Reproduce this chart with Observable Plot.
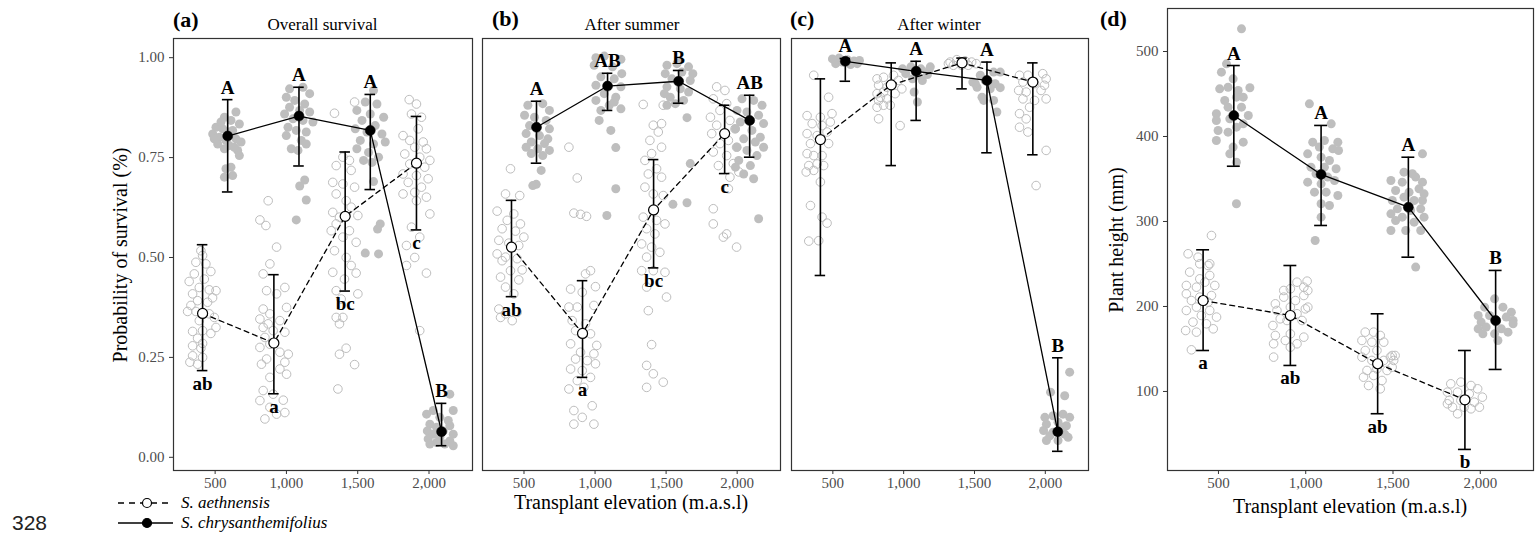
<!DOCTYPE html>
<html><head><meta charset="utf-8">
<script src="https://cdn.jsdelivr.net/npm/d3@7"></script>
<script src="https://cdn.jsdelivr.net/npm/@observablehq/plot@0.6"></script>
<style>
html,body{margin:0;padding:0;background:#fff;}
#chart{position:relative;width:1537px;height:535px;overflow:hidden;background:#fff;}
#chart svg{position:absolute;left:0;top:0;}
</style></head><body><div id="chart"></div>
<script>
// ---------- categories / labels ----------
const elevations = [500, 1000, 1500, 2000];
const elevationLabels = ["500", "1,000", "1,500", "2,000"];
const speciesNames = ["S. aethnensis", "S. chrysanthemifolius"];
const survivalTicks = [0, 0.25, 0.5, 0.75, 1];
const survivalTickLabels = ["0.00", "0.25", "0.50", "0.75", "1.00"];
const heightTicks = [100, 200, 300, 400, 500];
const panelTags = ["(a)", "(b)", "(c)", "(d)"];
const panelTitles = ["Overall survival", "After summer", "After winter"];
const xTitle = "Transplant elevation (m.a.s.l)";
const yTitleSurvival = "Probability of survival (%)";
const yTitleHeight = "Plant height (mm)";
const pageNumber = "328";

// ---------- (a) overall survival ----------
const overallAethMean = [0.360, 0.286, 0.603, 0.736];
const overallAethLow  = [0.217, 0.159, 0.416, 0.569];
const overallAethHigh = [0.532, 0.457, 0.764, 0.853];
const overallAethLetters = ["ab", "a", "bc", "c"];
const overallChrysMean = [0.804, 0.854, 0.818, 0.064];
const overallChrysLow  = [0.664, 0.729, 0.670, 0.029];
const overallChrysHigh = [0.895, 0.926, 0.908, 0.135];
const overallChrysLetters = ["A", "A", "A", "B"];
// raw points: [jitter offset (m), value]
const overallAethRaw = [
 [[-12,.517],[0,.505],[-47,.488],[23,.484],[58,.465],[-58,.459],[-94,.440],[12,.446],[-23,.425],[47,.419],[94,.417],[-70,.409],[70,.399],[-35,.392],[35,.388],[-82,.380],[-105,.365],[-47,.365],[47,.359],[82,.350],[-23,.342],[94,.325],[-70,.315],[0,.317],[58,.310],[-35,.298],[0,.285],[-70,.279],[-12,.273],[-70,.254],[0,.250],[-89,.238],[-35,.233]],
 [[19,.526],[-28,.484],[-75,.459],[77,.425],[-51,.417],[19,.409],[89,.375],[-75,.371],[-28,.359],[-98,.346],[42,.342],[-40,.334],[-75,.325],[-5,.317],[77,.313],[-63,.300],[-28,.283],[-98,.275],[42,.263],[101,.258],[-51,.246],[77,.238],[-87,.233],[42,.221],[89,.208],[-28,.200],[-75,.167],[-5,.158],[66,.143],[-98,.142],[-28,.125],[77,.112],[-63,.096],[19,.108],[-40,.642],[-98,.594],[-56,.580]],
 [[-75,.861],[66,.889],[-16,.751],[30,.743],[-63,.730],[42,.718],[-87,.688],[-16,.684],[66,.676],[-63,.659],[7,.642],[42,.626],[-87,.613],[-40,.601],[89,.605],[-63,.584],[30,.567],[-98,.567],[-16,.551],[77,.538],[-75,.517],[7,.500],[42,.480],[-87,.463],[77,.461],[-5,.446],[-63,.417],[89,.409],[-28,.396],[-63,.350],[-16,.350],[-40,.334],[7,.273],[-40,.258],[66,.232],[-51,.171]],
 [[-51,.895],[0,.884],[-35,.859],[35,.851],[-94,.805],[12,.822],[-47,.793],[47,.789],[-12,.776],[70,.772],[-82,.759],[23,.751],[94,.743],[-47,.734],[58,.726],[-94,.709],[0,.705],[82,.697],[-58,.688],[35,.676],[-12,.663],[-94,.659],[70,.651],[0,.642],[94,.609],[-35,.576],[23,.551],[-70,.530],[-12,.500],[-70,.480],[70,.461],[23,.317]]
];
const overallChrysRaw = [
 [[58,.864],[-23,.851],[23,.843],[82,.834],[-82,.826],[-35,.822],[35,.818],[-105,.809],[0,.814],[-58,.801],[58,.797],[94,.789],[-70,.784],[12,.780],[-23,.772],[70,.768],[82,.755],[23,.726],[-12,.722],[-23,.701],[35,.705],[-94,.797],[-47,.839],[47,.776],[-12,.793]],
 [[-66,.922],[28,.926],[75,.910],[-89,.901],[-30,.893],[40,.884],[-66,.876],[5,.868],[75,.864],[-101,.859],[-42,.847],[28,.843],[98,.839],[-77,.826],[-19,.818],[51,.814],[-89,.805],[16,.793],[-54,.772],[-7,.768],[51,.784],[40,.694],[5,.679],[51,.644],[-19,.594]],
 [[23,.918],[-35,.889],[47,.884],[-94,.868],[0,.859],[94,.851],[-58,.843],[35,.830],[-105,.822],[-23,.814],[82,.809],[-70,.793],[23,.784],[105,.789],[-94,.772],[-12,.763],[58,.751],[-47,.743],[12,.738],[70,.584],[51,.571],[-35,.511],[58,.509],[23,.690]],
 [[58,.158],[-58,.117],[82,.117],[-105,.108],[-12,.100],[47,.092],[-82,.083],[-35,.075],[58,.079],[-100,.066],[12,.066],[-58,.058],[82,.058],[-12,.050],[-94,.046],[58,.041],[-35,.037],[23,.033],[82,.029],[-82,.033]]
];

// ---------- (b) after summer ----------
const summerAethMean = [0.526, 0.310, 0.619, 0.810];
const summerAethLow  = [0.402, 0.200, 0.474, 0.710];
const summerAethHigh = [0.643, 0.442, 0.745, 0.881];
const summerAethLetters = ["ab", "a", "bc", "c"];
const summerChrysMean = [0.826, 0.929, 0.941, 0.843];
const summerChrysLow  = [0.736, 0.868, 0.886, 0.751];
const summerChrysHigh = [0.891, 0.961, 0.968, 0.906];
const summerChrysLetters = ["A", "AB", "B", "AB"];
const summerAethRaw = [
 [[-42,.659],[58,.655],[-101,.616],[16,.609],[-30,.593],[63,.584],[-66,.572],[28,.566],[87,.551],[-89,.543],[-19,.536],[51,.530],[-101,.509],[-42,.501],[40,.497],[-66,.492],[75,.469],[-7,.467],[-77,.451],[51,.444],[-42,.426],[16,.409],[-89,.371],[40,.363],[-42,.359],[5,.342],[-77,.350],[-7,.722]],
 [[-96,.776],[-37,.699],[-61,.611],[-14,.608],[28,.603],[56,.467],[21,.459],[91,.427],[-84,.421],[-2,.413],[-96,.376],[-37,.376],[80,.380],[-73,.342],[21,.334],[-49,.317],[56,.309],[-84,.284],[100,.280],[-14,.263],[80,.259],[-49,.246],[33,.242],[-84,.221],[91,.234],[-2,.217],[56,.200],[-96,.171],[-37,.192],[9,.175],[-61,.117],[68,.129],[-2,.100],[-61,.083],[80,.083]],
 [[-73,.883],[68,.881],[56,.835],[-2,.831],[33,.814],[-26,.793],[56,.776],[-14,.760],[-61,.743],[21,.722],[-37,.709],[56,.701],[-61,.676],[-2,.659],[68,.655],[-73,.601],[21,.593],[80,.584],[-49,.572],[9,.559],[-84,.534],[-14,.526],[44,.513],[-49,.501],[-84,.467],[-2,.467],[80,.463],[-49,.426],[91,.401],[-37,.367],[-14,.282],[-49,.230],[-2,.209],[68,.188],[-49,.175]],
 [[-56,.927],[2,.918],[-80,.897],[14,.885],[-33,.868],[-100,.851],[37,.843],[-56,.831],[73,.822],[-91,.810],[26,.793],[-33,.785],[84,.776],[-80,.764],[14,.755],[61,.735],[-44,.730],[100,.714],[37,.701],[-80,.622],[26,.672],[-80,.584],[14,.559],[-9,.551],[84,.526]]
];
const summerChrysRaw = [
 [[-61,.881],[44,.885],[91,.868],[-84,.856],[-14,.851],[68,.843],[-49,.830],[91,.822],[-73,.810],[21,.805],[80,.797],[-37,.789],[56,.785],[-73,.776],[9,.772],[91,.768],[-37,.760],[44,.755],[33,.718],[-2,.683],[-26,.680]],
 [[-82,1.0],[-23,1.004],[94,.996],[-94,.981],[35,.977],[100,.960],[-47,.952],[47,.947],[-82,.931],[94,.927],[-23,.910],[58,.901],[-82,.893],[12,.881],[94,.872],[-47,.868],[47,.889],[-59,.843],[23,.818],[58,.775],[58,.672],[-5,.605]],
 [[-82,.981],[-12,.985],[70,.977],[-94,.960],[23,.964],[-47,.947],[82,.943],[-82,.927],[12,.922],[70,.914],[-59,.901],[35,.893],[-23,.885],[-82,.881],[59,.850],[82,.735],[-40,.633],[59,.637],[0,.993],[100,.960],[-100,.910]],
 [[-54,.897],[28,.893],[87,.881],[-89,.868],[-19,.864],[63,.856],[-66,.839],[98,.835],[-100,.822],[16,.818],[75,.801],[-42,.797],[40,.789],[-89,.776],[98,.776],[-19,.768],[51,.755],[-77,.743],[5,.730],[-42,.709],[28,.697],[63,.597],[-100,.726]]
];

// ---------- (c) after winter ----------
const winterAethMean = [0.795, 0.932, 0.987, 0.939];
const winterAethLow  = [0.455, 0.730, 0.922, 0.757];
const winterAethHigh = [0.947, 0.987, 0.999, 0.987];
const winterChrysMean = [0.991, 0.966, 0.943, 0.064];
const winterChrysLow  = [0.941, 0.843, 0.762, 0.015];
const winterChrysHigh = [0.998, 0.991, 0.989, 0.249];
const winterChrysLetters = ["A", "A", "A", "B"];
const winterAethRaw = [
 [[-47,.956],[58,.901],[-94,.855],[0,.851],[82,.860],[-58,.835],[12,.830],[70,.839],[-94,.810],[-23,.805],[47,.814],[-70,.785],[58,.785],[-94,.760],[-47,.755],[12,.755],[-82,.730],[-23,.734],[23,.730],[-100,.714],[-47,.718],[0,.689],[-70,.630],[12,.601],[47,.586],[-82,.541],[-12,.542]],
 [[-100,.947],[-54,.951],[16,.956],[51,.943],[-89,.931],[-30,.926],[75,.922],[-100,.910],[-54,.914],[28,.910],[-89,.893],[-30,.897],[-100,.876],[-54,.881],[-7,.881],[-89,.847],[63,.830],[-77,.901]],
 [[-84,.989],[-37,.995],[21,.992],[68,.989],[-61,.981],[-2,.981],[44,.981],[100,.985],[-96,.985]],
 [[-94,.956],[-35,.956],[70,.960],[94,.947],[-70,.939],[12,.935],[82,.931],[-100,.918],[-47,.914],[58,.918],[-70,.897],[12,.893],[94,.897],[-23,.876],[-94,.860],[-47,.847],[-94,.826],[-35,.814],[94,.768],[23,.680]]
];
const winterChrysRaw = [
 [[-91,.997],[-44,.999],[14,.995],[61,.992],[100,.993],[-68,.985],[37,.983],[-21,.989],[84,.985]],
 [[-96,.972],[-37,.977],[33,.972],[91,.968],[-73,.960],[9,.956],[80,.958],[-26,.947],[44,.943],[-14,.914],[9,.889],[100,.977]],
 [[-47,.956],[47,.964],[94,.964],[-100,.939],[-12,.943],[58,.935],[-70,.926],[23,.922],[94,.925],[-35,.901],[47,.893],[70,.864],[-23,.893],[-82,.935]],
 [[84,.213],[-51,.163],[49,.154],[-91,.100],[-33,.104],[37,.108],[84,.100],[-80,.083],[2,.088],[61,.079],[-100,.067],[-33,.063],[49,.058],[-80,.042],[2,.042],[73,.050],[-56,.054],[26,.075]]
];

// ---------- (d) plant height ----------
const heightAethMean = [207.0, 189.4, 132.6, 90.2];
const heightAethLow  = [148.2, 130.6, 73.8, 31.8];
const heightAethHigh = [266.7, 248.2, 191.4, 148.2];
const heightAethLetters = ["a", "ab", "ab", "b"];
const heightChrysMean = [424.7, 355.3, 316.8, 183.5];
const heightChrysLow  = [365.0, 295.3, 258.0, 125.9];
const heightChrysHigh = [483.5, 413.0, 375.6, 242.4];
const heightChrysLetters = ["A", "A", "A", "B"];
const heightAethRaw = [
 [[48,283.5],[-86,262.0],[-29,258.0],[38,250.2],[-19,250.2],[29,248.2],[-77,240.4],[38,236.5],[-19,232.5],[10,228.6],[-96,224.7],[-38,222.7],[67,224.7],[-96,214.9],[-19,211.0],[48,212.9],[-67,207.0],[29,205.1],[-38,199.2],[38,195.3],[-96,195.3],[-10,189.4],[77,187.5],[-58,181.6],[19,179.6],[-100,171.7],[-38,169.8],[58,173.7],[-67,149.0]],
 [[-86,203.1],[-38,211.0],[29,207.0],[77,212.9],[100,218.8],[-77,195.3],[0,199.2],[86,197.2],[-58,185.5],[38,191.4],[100,199.2],[-100,177.6],[-19,183.5],[67,183.5],[-86,165.9],[0,167.8],[77,163.9],[-29,160.0],[-96,156.1],[38,156.1],[0,152.1],[-96,140.4],[96,229.8],[38,228.6],[-38,218.8],[0,220.8],[77,222.7]],
 [[-71,169.8],[-23,169.8],[15,165.9],[-90,160.0],[-33,158.0],[35,158.0],[83,142.3],[-71,148.2],[-4,148.2],[73,140.4],[-90,140.4],[-33,136.5],[35,136.5],[92,136.5],[-61,124.7],[-4,126.6],[54,124.7],[-81,116.8],[-23,118.8],[25,112.9],[-52,107.0],[15,103.1],[83,128.6],[100,142.3]],
 [[-81,109.0],[-23,111.0],[35,107.0],[73,103.1],[-100,99.2],[-42,99.2],[25,97.2],[100,93.3],[-90,89.4],[-23,89.4],[54,87.4],[-71,81.5],[-4,81.5],[83,81.5],[-42,73.7],[35,79.6],[-100,85.5]]
];
const heightChrysRaw = [
 [[44,526.7],[-42,485.5],[-71,475.7],[-4,467.8],[-81,456.1],[-33,458.0],[25,454.1],[92,457.3],[-52,442.4],[15,446.3],[54,446.3],[-100,426.7],[-33,434.5],[44,434.5],[83,424.7],[-100,418.8],[-23,420.8],[15,411.0],[54,414.9],[-90,407.1],[-33,405.1],[-4,387.5],[54,393.3],[-100,395.3],[-23,379.6],[15,369.8],[15,320.8]],
 [[-67,438.4],[58,414.9],[-48,393.3],[19,395.3],[96,393.3],[-10,387.5],[67,385.5],[100,383.5],[-77,379.6],[0,375.7],[48,371.8],[-58,363.9],[19,363.9],[86,362.0],[-29,356.1],[38,352.2],[-77,346.3],[0,344.3],[77,348.2],[-38,334.5],[29,334.5],[96,330.6],[0,320.8],[48,318.8],[0,305.1],[-34,277.6]],
 [[-25,358.0],[23,356.1],[-100,348.2],[-35,346.3],[42,352.2],[81,346.3],[-73,336.5],[4,334.5],[61,338.4],[90,332.5],[-92,324.7],[-25,328.6],[33,324.7],[81,324.7],[-63,314.9],[13,312.9],[71,314.9],[-100,309.0],[-35,305.1],[90,305.1],[-73,301.2],[33,299.2],[-15,289.4],[-100,289.4],[71,289.4],[81,379.6],[42,246.3]],
 [[-6,209.0],[-63,199.2],[42,199.2],[90,193.3],[-100,189.4],[-35,189.4],[61,187.5],[-83,181.6],[4,181.6],[100,183.5],[-54,175.7],[33,173.7],[-100,173.7],[71,169.8],[-6,167.8],[-73,167.8],[13,160.0],[100,179.6]]
];

// ---------- layout ----------
const W = 1537, H = 535;
const DODGE = 88;      // species offset along elevation axis (m)
const CAP = 37;        // error-bar cap half width (m)
const xDomain = [208, 2305];
const serif = "'Liberation Serif','Times New Roman',Times,serif";

function groupRows(mean, low, high, letters, shift) {
  return elevations.map((e, i) => ({x: e + shift, y: mean[i], lo: low[i], hi: high[i], letter: letters ? letters[i] : ""}));
}
function rawRows(raw, shift) {
  return raw.flatMap((g, i) => g.map(([dx, v]) => ({x: elevations[i] + shift + dx, y: v})));
}

function panel(p) {
  const aRows = groupRows(p.aMean, p.aLow, p.aHigh, p.aLetters, -DODGE);
  const cRows = groupRows(p.cMean, p.cLow, p.cHigh, p.cLetters, DODGE);
  const both = aRows.concat(cRows);
  const marks = [
    Plot.dot(rawRows(p.aRaw, -DODGE), {x: "x", y: "y", r: 4.3, fill: "none", stroke: "#bdbdbd", strokeWidth: 1}),
    Plot.dot(rawRows(p.cRaw, DODGE), {x: "x", y: "y", r: 4.5, fill: "#bebebe", stroke: "none"}),
    Plot.line(aRows, {x: "x", y: "y", stroke: "black", strokeWidth: 1.3, strokeDasharray: "5,4"}),
    Plot.line(cRows, {x: "x", y: "y", stroke: "black", strokeWidth: 1.3}),
    Plot.ruleX(both, {x: "x", y1: "lo", y2: "hi", stroke: "black", strokeWidth: 1.6}),
    Plot.ruleY(both, {y: "lo", x1: d => d.x - CAP, x2: d => d.x + CAP, stroke: "black", strokeWidth: 1.6}),
    Plot.ruleY(both, {y: "hi", x1: d => d.x - CAP, x2: d => d.x + CAP, stroke: "black", strokeWidth: 1.6}),
    Plot.dot(aRows, {x: "x", y: "y", r: 5, fill: "white", stroke: "black", strokeWidth: 1.2}),
    Plot.dot(cRows, {x: "x", y: "y", r: 5, fill: "black", stroke: "black", strokeWidth: 0.5}),
    Plot.text(aRows.filter(d => d.letter), {x: "x", y: "lo", text: "letter", lineAnchor: "bottom", dy: 19, fontSize: 19, fontWeight: "bold", fontFamily: serif, fill: "black"}),
    Plot.text(cRows.filter(d => d.letter), {x: "x", y: "hi", text: "letter", lineAnchor: "bottom", dy: -6, fontSize: 19, fontWeight: "bold", fontFamily: serif, fill: "black"}),
    Plot.axisX({ticks: elevations, tickFormat: d => elevationLabels[elevations.indexOf(d)], tickSize: 4, tickPadding: 3, fontSize: 15, fontFamily: serif, fill: "#4d4d4d", stroke: "#333", label: null})
  ];
  if (p.yTicks) marks.push(Plot.axisY({ticks: p.yTicks, tickFormat: p.yFormat, tickSize: 4, tickPadding: 5, fontSize: 15, fontFamily: serif, fill: "#4d4d4d", stroke: "#333", label: null}));
  marks.push(Plot.frame({stroke: "#333", strokeWidth: 1.2}));
  return Plot.plot({
    width: W, height: H,
    marginLeft: p.left, marginRight: W - p.right, marginTop: p.top, marginBottom: H - p.bottom,
    x: {domain: xDomain, axis: null},
    y: {domain: p.yDomain, axis: null},
    style: {background: "transparent", fontFamily: serif, fontSize: "15px", overflow: "visible", position: "absolute", left: "0px", top: "0px"},
    marks
  });
}

const chart = document.getElementById("chart");
const survDomain = [-0.033, 1.048];
chart.append(panel({left: 173, right: 472, top: 38, bottom: 470, yDomain: survDomain, yTicks: survivalTicks, yFormat: d => survivalTickLabels[survivalTicks.indexOf(d)],
  aMean: overallAethMean, aLow: overallAethLow, aHigh: overallAethHigh, aLetters: overallAethLetters, aRaw: overallAethRaw,
  cMean: overallChrysMean, cLow: overallChrysLow, cHigh: overallChrysHigh, cLetters: overallChrysLetters, cRaw: overallChrysRaw}));
chart.append(panel({left: 482, right: 780, top: 38, bottom: 470, yDomain: survDomain,
  aMean: summerAethMean, aLow: summerAethLow, aHigh: summerAethHigh, aLetters: summerAethLetters, aRaw: summerAethRaw,
  cMean: summerChrysMean, cLow: summerChrysLow, cHigh: summerChrysHigh, cLetters: summerChrysLetters, cRaw: summerChrysRaw}));
chart.append(panel({left: 791, right: 1088, top: 38, bottom: 470, yDomain: survDomain,
  aMean: winterAethMean, aLow: winterAethLow, aHigh: winterAethHigh, aLetters: null, aRaw: winterAethRaw,
  cMean: winterChrysMean, cLow: winterChrysLow, cHigh: winterChrysHigh, cLetters: winterChrysLetters, cRaw: winterChrysRaw}));
chart.append(panel({left: 1167, right: 1533, top: 8, bottom: 470, yDomain: [7, 550.6], yTicks: heightTicks, yFormat: d => String(d),
  aMean: heightAethMean, aLow: heightAethLow, aHigh: heightAethHigh, aLetters: heightAethLetters, aRaw: heightAethRaw,
  cMean: heightChrysMean, cLow: heightChrysLow, cHigh: heightChrysHigh, cLetters: heightChrysLetters, cRaw: heightChrysRaw}));

// ---------- annotations: tags, titles, axis titles, legend ----------
const ann = d3.create("svg").attr("width", W).attr("height", H)
  .style("position", "absolute").style("left", "0px").style("top", "0px").style("overflow", "visible")
  .attr("font-family", serif);
const txt = (x, y, s, o = {}) => ann.append("text").attr("x", x).attr("y", y)
  .attr("font-size", o.size || 17).attr("font-weight", o.weight || "normal").attr("font-style", o.style || "normal")
  .attr("text-anchor", o.anchor || "start").attr("fill", o.fill || "black").attr("font-family", o.family || serif).text(s);

[[173, 27], [492, 26], [790, 26], [1100, 26]].forEach(([x, y], i) => txt(x, y, panelTags[i], {size: 22, weight: "bold"}));
[[322.5, panelTitles[0]], [632, panelTitles[1]], [939, panelTitles[2]]].forEach(([x, s]) => txt(x, 29.5, s, {size: 17, anchor: "middle"}));
txt(631, 509, xTitle, {size: 20, anchor: "middle"});
txt(1350, 513, xTitle, {size: 20, anchor: "middle"});
ann.append("text").attr("transform", "translate(127,255) rotate(-90)").attr("text-anchor", "middle").attr("font-size", 20).attr("fill", "black").text(yTitleSurvival);
ann.append("text").attr("transform", "translate(1123,240) rotate(-90)").attr("text-anchor", "middle").attr("font-size", 20).attr("fill", "black").text(yTitleHeight);

// legend
const legRows = [{y: 503, dash: "6,5", fill: "white"}, {y: 523, dash: null, fill: "black"}];
legRows.forEach((r, i) => {
  const l = ann.append("line").attr("x1", 118).attr("x2", 173).attr("y1", r.y).attr("y2", r.y).attr("stroke", "black").attr("stroke-width", 1.3);
  if (r.dash) l.attr("stroke-dasharray", r.dash);
  ann.append("circle").attr("cx", 147).attr("cy", r.y).attr("r", 4.5).attr("fill", r.fill).attr("stroke", "black").attr("stroke-width", 1.2);
  txt(181, r.y + 5, speciesNames[i], {size: 17, style: "italic"});
});
txt(12, 530, pageNumber, {size: 21, family: "'Liberation Sans',Arial,sans-serif", fill: "#222"});
chart.append(ann.node());
</script></body></html>
